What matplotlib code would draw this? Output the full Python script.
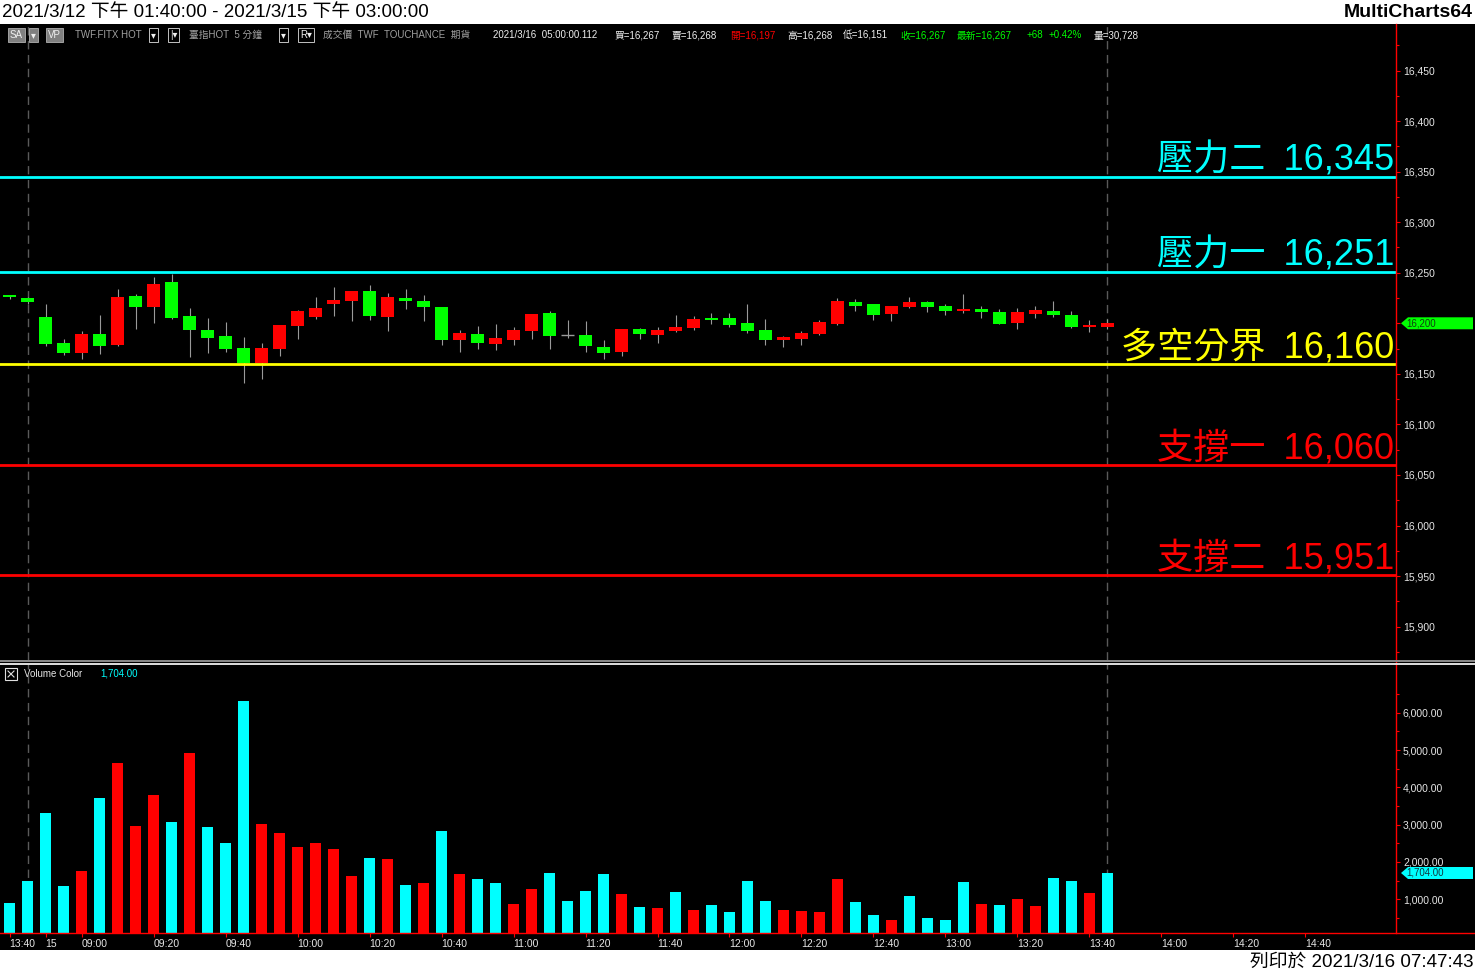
import matplotlib
matplotlib.use("Agg")
import matplotlib.pyplot as plt
import matplotlib.transforms as mtransforms
from matplotlib.lines import Line2D
from matplotlib.patches import Rectangle, Polygon
from matplotlib.ticker import FixedLocator, MultipleLocator, FuncFormatter

FAM = ['Liberation Sans', 'Noto Sans CJK TC', 'DejaVu Sans']
plt.rcParams['font.family'] = FAM

# 5 min bars of TWF.FITX, 3/12 13:40 .. 3/15 13:45
opens = [16228, 16225, 16206, 16181, 16171, 16189, 16179, 16227, 16216, 16241,
         16207, 16193, 16187, 16176, 16161, 16175, 16197, 16206, 16219, 16222,
         16232, 16206, 16225, 16222, 16216, 16183, 16189, 16180, 16183, 16192,
         16210, 16188, 16188, 16177, 16172, 16194, 16188, 16192, 16195, 16205,
         16205, 16200, 16193, 16183, 16184, 16189, 16199, 16221, 16219, 16209,
         16216, 16221, 16217, 16212, 16214, 16211, 16200, 16209, 16212, 16208,
         16196, 16196]
highs = [16228, 16226, 16219, 16184, 16192, 16208, 16234, 16229, 16246, 16249,
         16215, 16205, 16201, 16186, 16181, 16198, 16213, 16226, 16236, 16232,
         16238, 16230, 16234, 16228, 16216, 16193, 16197, 16199, 16196, 16209,
         16212, 16203, 16202, 16183, 16194, 16195, 16196, 16208, 16207, 16210,
         16210, 16219, 16204, 16187, 16192, 16203, 16225, 16224, 16219, 16217,
         16226, 16222, 16219, 16229, 16217, 16214, 16215, 16217, 16222, 16212,
         16203, 16204]
lows = [16224, 16219, 16178, 16169, 16165, 16170, 16178, 16194, 16200, 16204,
        16167, 16171, 16172, 16141, 16145, 16168, 16184, 16204, 16207, 16202,
        16203, 16192, 16214, 16202, 16179, 16172, 16175, 16174, 16179, 16184,
        16175, 16185, 16172, 16165, 16168, 16184, 16181, 16191, 16193, 16199,
        16196, 16190, 16179, 16177, 16179, 16188, 16198, 16212, 16203, 16202,
        16215, 16211, 16208, 16210, 16205, 16199, 16194, 16205, 16206, 16195,
        16191, 16194]
closes = [16226, 16221, 16180, 16171, 16189, 16178, 16226, 16216, 16239, 16205,
          16193, 16185, 16175, 16161, 16176, 16198, 16212, 16215, 16223, 16232,
          16207, 16226, 16222, 16216, 16183, 16190, 16181, 16185, 16193, 16209,
          16187, 16188, 16178, 16171, 16194, 16189, 16193, 16196, 16204, 16203,
          16198, 16192, 16183, 16186, 16190, 16201, 16222, 16217, 16208, 16217,
          16221, 16216, 16212, 16214, 16211, 16199, 16211, 16213, 16208, 16196,
          16198, 16200]
volumes = [893, 1481, 3299, 1348, 1749, 3701, 4663, 2952, 3781, 3059,
           4930, 2925, 2497, 6321, 3005, 2765, 2390, 2497, 2337, 1615,
           2096, 2072, 1374, 1428, 2818, 1668, 1535, 1428, 866, 1267,
           1695, 947, 1214, 1668, 1134, 786, 759, 1187, 706, 840,
           652, 1481, 947, 706, 679, 652, 1535, 920, 572, 439,
           1080, 492, 439, 1455, 866, 840, 1000, 813, 1561, 1481,
           1160, 1704]
# +1 = cyan volume bar, -1 = red volume bar
vol_dir = [1, 1, 1, 1, -1, 1, -1, -1, -1, 1,
           -1, 1, 1, 1, -1, -1, -1, -1, -1, -1,
           1, -1, 1, -1, 1, -1, 1, 1, -1, -1,
           1, 1, 1, 1, -1, 1, -1, 1, -1, 1,
           1, 1, 1, -1, -1, -1, -1, 1, 1, -1,
           1, 1, 1, 1, -1, 1, -1, -1, 1, 1,
           -1, 1]

level_names = ['壓力二', '壓力一', '多空分界', '支撐一', '支撐二']
level_values = [16345, 16251, 16160, 16060, 15951]
level_kind = ['res', 'res', 'mid', 'sup', 'sup']

session_end_bars = [1, 61]
xtick_pos = [0, 2] + list(range(4, 73, 4))
xtick_labels = ['13:40', '15', '09:00', '09:20', '09:40', '10:00', '10:20',
                '10:40', '11:00', '11:20', '11:40', '12:00', '12:20', '12:40',
                '13:00', '13:20', '13:40', '14:00', '14:20', '14:40']

last_price = 16200
last_volume = 1704

W, H = 1475, 973
fig = plt.figure(figsize=(W / 100, H / 100), dpi=100, facecolor='white')


def fx(x):
    return x / W


def fy(y):
    return 1 - y / H


# black chart area
fig.add_artist(Rectangle((0, fy(950)), 1, (950 - 24) / H, transform=fig.transFigure,
                         facecolor='black', edgecolor='none', zorder=-10))

ax = fig.add_axes([0, fy(660), fx(1396), (660 - 24) / H])
axv = fig.add_axes([0, fy(933), fx(1396), (933 - 664) / H])
for a in (ax, axv):
    a.set_facecolor('black')
    for s in a.spines.values():
        s.set_visible(False)
    a.set_xlim(-0.53, 77.03)

# candles (red = up, green = down)
up_col = {1: '#ff0000', -1: '#00ff00'}
idx = list(range(len(opens)))
ax.vlines(idx, lows, highs, color='#9a9a9a', lw=0.8, zorder=2)
for i in idx:
    o, c = opens[i], closes[i]
    if o == c:
        ax.hlines(o, i - 0.36, i + 0.36, color='#9a9a9a', lw=1, zorder=3)
    else:
        ax.bar(i, abs(c - o), bottom=min(o, c), width=0.72,
               color=up_col[1 if c > o else -1], linewidth=0, zorder=3)

# support / resistance levels
kind_col = {'res': '#00ffff', 'mid': '#ffff00', 'sup': '#ff0000'}
blend = mtransforms.blended_transform_factory(ax.transAxes, ax.transData)
for name, v, k in zip(level_names, level_values, level_kind):
    ax.axhline(v, color=kind_col[k], lw=2, zorder=4)
    ax.text(0.9985, v + 6, f"{name}\u2002{v:,}", transform=blend, ha='right',
            va='baseline', fontsize=26, color=kind_col[k], zorder=5,
            family=['Liberation Sans', 'Noto Sans CJK TC', 'DejaVu Sans'])

for a in (ax, axv):
    for b in session_end_bars:
        a.axvline(b, color='#5a5a5a', lw=1, dashes=(6, 4), zorder=1)

ax.set_ylim(15867, 16496)
ax.yaxis.tick_right()
ax.yaxis.set_major_locator(MultipleLocator(50))
ax.yaxis.set_minor_locator(MultipleLocator(25))
# the 16,200 label sits under the last price tag
ax.yaxis.set_major_formatter(FuncFormatter(
    lambda v, p: '' if abs(v - last_price) < 1 else f"{v:,.0f}"))
ax.tick_params(axis='y', which='both', colors='#ff0000', labelcolor='#e6e6e6',
               labelsize=7.5, pad=2, width=0.8)
ax.tick_params(axis='y', which='major', length=3)
ax.tick_params(axis='y', which='minor', length=2)
ax.tick_params(axis='x', bottom=False, labelbottom=False)

# volume
axv.bar(idx, volumes, width=0.61, linewidth=0,
        color=['#00ffff' if d > 0 else '#ff0000' for d in vol_dir], zorder=3)
axv.set_ylim(96, 7305)
axv.yaxis.tick_right()
axv.yaxis.set_major_locator(FixedLocator(range(1000, 6001, 1000)))
axv.yaxis.set_minor_locator(FixedLocator(range(500, 6501, 1000)))
axv.yaxis.set_major_formatter(FuncFormatter(lambda v, p: f"{v:,.2f}"))
axv.tick_params(axis='y', which='both', colors='#ff0000', labelcolor='#e6e6e6',
                labelsize=7.5, pad=2, width=0.8)
axv.tick_params(axis='y', which='major', length=3)
axv.tick_params(axis='y', which='minor', length=2)
axv.set_xticks(xtick_pos, xtick_labels)
axv.tick_params(axis='x', colors='#ff0000', labelcolor='#e6e6e6', labelsize=7.5,
                length=3, width=0.8, pad=1.5)
for lbl in axv.get_xticklabels():
    lbl.set_horizontalalignment('left')

# frame lines
fig.add_artist(Line2D([fx(1396), fx(1396)], [fy(24), fy(933)], transform=fig.transFigure,
                      color='#ff0000', lw=1, zorder=6))
fig.add_artist(Line2D([0, 1], [fy(933), fy(933)], transform=fig.transFigure,
                      color='#ff0000', lw=1, zorder=6))
fig.add_artist(Line2D([0, 1], [fy(661), fy(661)], transform=fig.transFigure,
                      color='#8a8a8a', lw=1.4, zorder=6))
fig.add_artist(Line2D([0, 1], [fy(663.5), fy(663.5)], transform=fig.transFigure,
                      color='#e0e0e0', lw=1.4, zorder=6))


# last value tags on the right axis
def tag(axis, value, text, color, textcolor):
    yf = fig.transFigure.inverted().transform(axis.transData.transform((0, value)))[1]
    h = 6 / H
    pts = [(fx(1401), yf), (fx(1408), yf + h), (fx(1473), yf + h),
           (fx(1473), yf - h), (fx(1408), yf - h)]
    fig.add_artist(Polygon(pts, closed=True, transform=fig.transFigure,
                           facecolor=color, edgecolor='none', zorder=10))
    fig.text(fx(1406), yf, text, color=textcolor, fontsize=7, va='center',
             ha='left', zorder=11)


tag(ax, last_price, f"{last_price:,}", '#00ff00', '#104010')
tag(axv, last_volume, f"{last_volume:,.2f}", '#00ffff', '#103840')

# volume legend
fig.add_artist(Rectangle((fx(5), fy(680)), 12 / W, 12 / H, transform=fig.transFigure,
                         facecolor='none', edgecolor='#e0e0e0', lw=0.8, zorder=8))
fig.add_artist(Line2D([fx(8), fx(14)], [fy(671), fy(677)], transform=fig.transFigure,
                      color='#e0e0e0', lw=0.8, zorder=8))
fig.add_artist(Line2D([fx(8), fx(14)], [fy(677), fy(671)], transform=fig.transFigure,
                      color='#e0e0e0', lw=0.8, zorder=8))
fig.text(fx(24), fy(674), 'Volume Color', color='#e6e6e6', fontsize=7, va='center')
fig.text(fx(100), fy(674), f"{last_volume:,.2f}", color='#00ffff', fontsize=7, va='center')

# header row of the chart window
header = [
    (10, 'SA', '#f0f0f0', 'gray'), (31, '▾', '#f0f0f0', 'gray'),
    (48, 'VP', '#f0f0f0', 'gray'), (75, 'TWF.FITX HOT', '#a0a0a0', None),
    (151, '▾', '#f0f0f0', 'line'), (170, '|▾', '#f0f0f0', 'line'),
    (189, '臺指HOT  5 分鐘', '#a0a0a0', None), (281, '▾', '#f0f0f0', 'line'),
    (300, 'R▾', '#f0f0f0', 'line'), (323, '成交價  TWF  TOUCHANCE  期貨', '#a0a0a0', None),
    (493, '2021/3/16  05:00:00.112', '#f0f0f0', None),
    (615, '買=16,267', '#f0f0f0', None), (672, '賣=16,268', '#f0f0f0', None),
    (730, '開=16,197', '#ff0000', None), (787, '高=16,268', '#f0f0f0', None),
    (843, '低=16,151', '#f0f0f0', None), (900, '收=16,267', '#00ff00', None),
    (957, '最新=16,267', '#00ff00', None), (1027, '+68', '#00ff00', None),
    (1049, '+0.42%', '#00ff00', None), (1094, '量=30,728', '#f0f0f0', None),
]
for x, s, c, box in header:
    bb = None
    if box == 'gray':
        bb = dict(boxstyle='square,pad=0.18', fc='#808080', ec='#b0b0b0', lw=0.6)
    elif box == 'line':
        bb = dict(boxstyle='square,pad=0.18', fc='black', ec='#e0e0e0', lw=0.6)
    fig.text(fx(x), fy(35), s, color=c, fontsize=7, va='center', ha='left',
             bbox=bb, zorder=9)

# window title and print stamp
fig.text(fx(2), fy(12.5), '2021/3/12 下午 01:40:00 - 2021/3/15 下午 03:00:00',
         color='black', fontsize=13.5, va='center', ha='left')
fig.text(fx(1473), fy(12.5), 'MultiCharts64', color='black', fontsize=14,
         fontweight='bold', va='center', ha='right')
fig.text(fx(1473), fy(962), '列印於 2021/3/16 07:47:43', color='black',
         fontsize=13.5, va='center', ha='right')

plt.savefig('out.png', dpi=100, facecolor=fig.get_facecolor())
